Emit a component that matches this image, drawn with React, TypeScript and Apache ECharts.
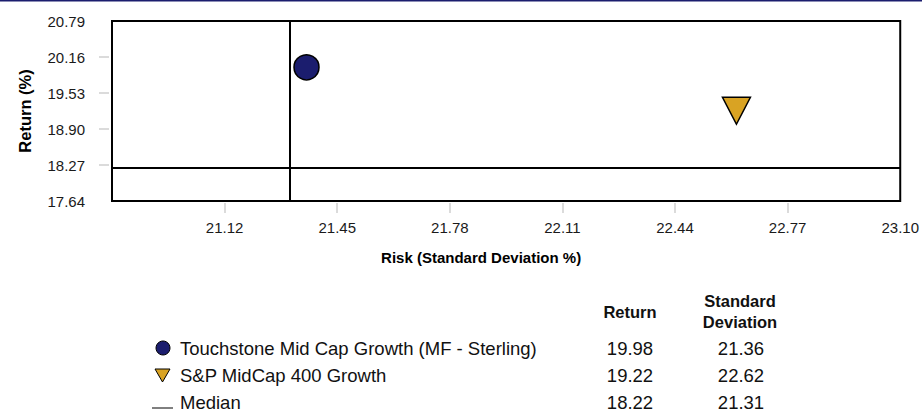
import React, { useEffect, useRef } from "react";
import * as echarts from "echarts";

// ---- data ----
const seriesNames = ["Touchstone Mid Cap Growth (MF - Sterling)", "S&P MidCap 400 Growth", "Median"];
const returnValues = [19.98, 19.22, 18.22];
const stdDevValues = [21.36, 22.62, 21.31];
const xTickValues = [21.12, 21.45, 21.78, 22.11, 22.44, 22.77, 23.1];
const yTickValues = [17.64, 18.27, 18.9, 19.53, 20.16, 20.79];
const xMin = 20.79;
const xMax = 23.1;
const xInterval = 0.33;
const yMin = 17.64;
const yMax = 20.79;
const yInterval = 0.63;
const tableHeaders = ["Return", "Standard", "Deviation"];

const FONT = "'Liberation Sans', Arial, Helvetica, sans-serif";
const NAVY = "#1b1d6e";
const GOLD = "#d9a323";

function txt(text: string, x: number, y: number, size: number, align: string, bold = false) {
  return {
    type: "text",
    x,
    y,
    silent: true,
    style: {
      text,
      fill: "#111",
      font: `${bold ? "bold " : ""}${size}px ${FONT}`,
      align,
      textAlign: align,
      verticalAlign: "middle",
      textVerticalAlign: "middle",
    },
  };
}

export default function App() {
  const ref = useRef<HTMLDivElement>(null);
  useEffect(() => {
    document.body.style.margin = "0";
    const chart = echarts.init(ref.current!, null, { renderer: "svg" });

    const rowY = [348, 375, 402];
    const graphics: any[] = [
      { type: "rect", shape: { x: 0, y: 0, width: 922, height: 1.5 }, style: { fill: NAVY }, silent: true },
      txt(tableHeaders[0], 630, 312, 16.5, "center", true),
      txt(tableHeaders[1], 740, 301, 16.5, "center", true),
      txt(tableHeaders[2], 740, 322, 16.5, "center", true),
      { type: "circle", shape: { cx: 163, cy: rowY[0], r: 7 }, style: { fill: NAVY, stroke: "#000", lineWidth: 1 }, silent: true },
      {
        type: "polygon",
        shape: { points: [[155, rowY[1] - 6], [170, rowY[1] - 6], [162.5, rowY[1] + 7]] },
        style: { fill: GOLD, stroke: "#000", lineWidth: 1 },
        silent: true,
      },
      { type: "line", shape: { x1: 152, y1: 408, x2: 173, y2: 408 }, style: { stroke: "#000", lineWidth: 1 }, silent: true },
    ];
    seriesNames.forEach((n, i) => {
      graphics.push(txt(n, 180, rowY[i], 18.5, "left"));
      graphics.push(txt(returnValues[i].toFixed(2), 630, rowY[i], 18.5, "center"));
      graphics.push(txt(stdDevValues[i].toFixed(2), 741, rowY[i], 18.5, "center"));
    });

    const labelStyle = { color: "#1a1a1a", fontSize: 15, fontFamily: FONT };
    const tickStyle = { show: true, length: 10, lineStyle: { color: "#cfcfcf", width: 1.5 } };

    chart.setOption({
      animation: false,
      backgroundColor: "#fff",
      textStyle: { fontFamily: FONT },
      grid: {
        left: 112,
        right: 20,
        top: 21,
        bottom: 212,
        show: true,
        borderColor: "#000",
        borderWidth: 2,
        backgroundColor: "#fff",
      },
      xAxis: {
        type: "value",
        min: xMin,
        max: xMax,
        interval: xInterval,
        offset: 2,
        axisLine: { show: false },
        splitLine: { show: false },
        axisTick: { ...tickStyle, customValues: xTickValues.slice(0, -1) },
        axisLabel: {
          ...labelStyle,
          margin: 17,
          customValues: xTickValues,
          formatter: (v: number) => v.toFixed(2),
        },
        name: "Risk (Standard Deviation %)",
        nameLocation: "middle",
        nameGap: 47,
        nameTextStyle: { fontWeight: "bold", fontSize: 15, color: "#000", fontFamily: FONT, padding: [0, 50, 0, 0] },
      },
      yAxis: {
        type: "value",
        min: yMin,
        max: yMax,
        interval: yInterval,
        offset: 3,
        axisLine: { show: false },
        splitLine: { show: false },
        axisTick: { ...tickStyle, customValues: yTickValues.slice(1, -1) },
        axisLabel: {
          ...labelStyle,
          margin: 24,
          customValues: yTickValues,
          formatter: (v: number) => v.toFixed(2),
        },
        name: "Return (%)",
        nameLocation: "middle",
        nameGap: 76,
        nameTextStyle: { fontWeight: "bold", fontSize: 16.5, color: "#000", fontFamily: FONT },
      },
      series: [
        {
          name: seriesNames[2],
          type: "scatter",
          data: [],
          silent: true,
          markLine: {
            silent: true,
            symbol: "none",
            label: { show: false },
            lineStyle: { color: "#000", width: 2, type: "solid" },
            data: [{ xAxis: stdDevValues[2] }, { yAxis: returnValues[2] }],
          },
        },
        {
          name: seriesNames[0],
          type: "scatter",
          symbol: "circle",
          symbolSize: 25,
          itemStyle: { color: NAVY, borderColor: "#000", borderWidth: 1.5, opacity: 1 },
          data: [[stdDevValues[0], returnValues[0]]],
        },
        {
          name: seriesNames[1],
          type: "scatter",
          symbol: "triangle",
          symbolRotate: 180,
          symbolSize: [28, 27],
          itemStyle: { color: GOLD, borderColor: "#000", borderWidth: 1.5, opacity: 1 },
          data: [[stdDevValues[1], returnValues[1]]],
        },
      ],
      graphic: graphics,
    });
    return () => chart.dispose();
  }, []);
  return <div ref={ref} style={{ width: 922, height: 413 }} />;
}
